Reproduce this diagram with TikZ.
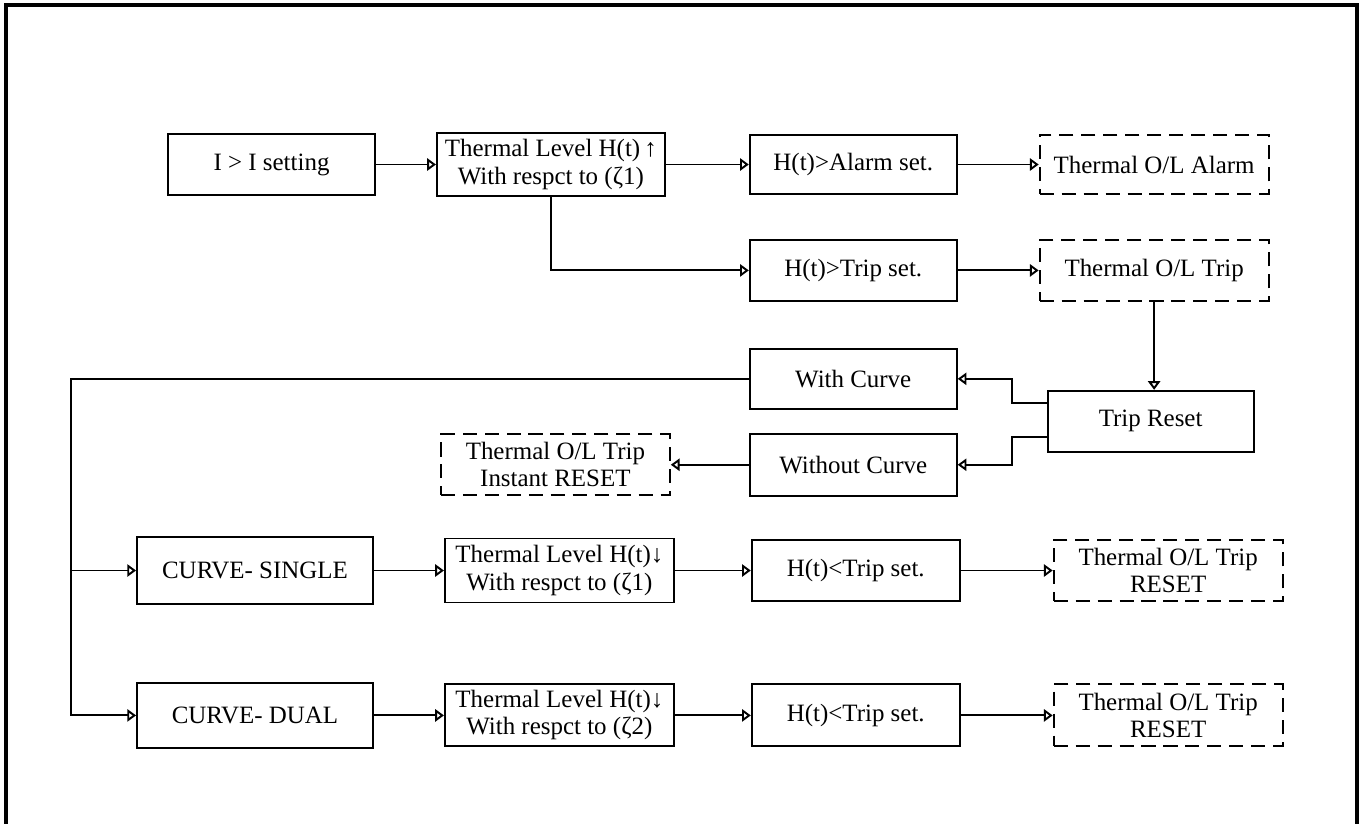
\documentclass[tikz,border=0pt]{standalone}
\usepackage{fontspec}
\setmainfont{Liberation Serif}
\usetikzlibrary{arrows.meta,positioning}
\tikzset{
  block/.style={
    rectangle, draw=black, line width=1.1pt,
    minimum width=4.14cm, minimum height=1.22cm,
    align=center, inner sep=2pt,
    font=\fontsize{14.2}{15.4}\selectfont
  },
  wideblock/.style={block, minimum width=4.58cm},
  signal/.style={wideblock, dash pattern=on 8pt off 4.5pt},
  arrow/.style={-{Triangle[open,length=5pt,width=7pt]}, line width=1.1pt},
  frame/.style={line width=1.8pt}
}

\begin{document}
\begin{tikzpicture}[x=0.02cm, y=-0.02cm]
  \useasboundingbox (0,0) rectangle (1363,823);
  \draw[frame] (6,840) -- (6,5) -- (1357,5) -- (1357,840);

  % heating side
  \node[block] (pickup) at (271.5,164.5) {I > I setting};
  \node[wideblock, right=1.2cm of pickup, minimum width=4.56cm, minimum height=1.26cm] (heatup)
    {Thermal Level H(t)\,↑\\With respct to (ζ1)};
  \node[block, right=1.66cm of heatup, minimum height=1.18cm] (alarmset) {H(t)>Alarm set.};
  \node[signal, right=1.62cm of alarmset, minimum height=1.18cm] (alarm) {Thermal O/L Alarm};
  \node[block, below=0.88cm of alarmset] (tripset) {H(t)>Trip set.};
  \node[signal, right=1.62cm of tripset] (trip) {Thermal O/L Trip};

  % reset choice
  \node[block, below=1.76cm of trip, xshift=-0.07cm, minimum width=4.12cm] (reset) {Trip Reset};
  \node[block, below=0.92cm of tripset, minimum height=1.2cm] (curve) {With Curve};
  \node[block, below=0.46cm of curve, minimum height=1.24cm] (nocurve) {Without Curve};
  \node[signal, left=1.56cm of nocurve] (instant) {Thermal O/L Trip\\Instant RESET};

  % cooling curves
  \node[block, minimum width=4.72cm, minimum height=1.34cm] (single) at (255,570.5) {CURVE- SINGLE};
  \node[wideblock, right=1.4cm of single, minimum height=1.28cm] (singlelevel)
    {Thermal Level H(t)↓\\With respct to (ζ1)};
  \node[block, right=1.52cm of singlelevel, minimum width=4.16cm] (singlecheck) {H(t)<Trip set.};
  \node[signal, right=1.84cm of singlecheck] (singlereset) {Thermal O/L Trip\\RESET};

  \node[block, below=1.54cm of single, minimum width=4.72cm, minimum height=1.3cm] (dual) {CURVE- DUAL};
  \node[wideblock, right=1.4cm of dual, minimum height=1.24cm] (duallevel)
    {Thermal Level H(t)↓\\With respct to (ζ2)};
  \node[block, right=1.52cm of duallevel, minimum width=4.16cm, minimum height=1.24cm] (dualcheck) {H(t)<Trip set.};
  \node[signal, right=1.84cm of dualcheck, minimum height=1.24cm] (dualreset) {Thermal O/L Trip\\RESET};

  \coordinate[left=1.3cm of single.west] (rail);

  \draw[arrow] (pickup) -- (heatup);
  \draw[arrow] (heatup) -- (alarmset);
  \draw[arrow] (alarmset) -- (alarm);
  \draw[arrow] (heatup.south) |- (tripset.west);
  \draw[arrow] (tripset) -- (trip);
  \draw[arrow] (trip.south) -- (trip.south |- reset.north);
  \draw[arrow] ([yshift=0.37cm]reset.west) -- ++(-0.7cm,0) |- (curve.east);
  \draw[arrow] ([yshift=-0.31cm]reset.west) -- ++(-0.7cm,0) |- (nocurve.east);
  \draw[arrow] (nocurve) -- (instant);
  \draw[arrow] (curve.west) -| (rail |- dual.west) -- (dual.west);
  \draw[arrow] (rail) -- (single.west);
  \draw[arrow] (single) -- (singlelevel);
  \draw[arrow] (singlelevel) -- (singlecheck);
  \draw[arrow] (singlecheck) -- (singlereset);
  \draw[arrow] (dual) -- (duallevel);
  \draw[arrow] (duallevel) -- (dualcheck);
  \draw[arrow] (dualcheck) -- (dualreset);
\end{tikzpicture}
\end{document}
